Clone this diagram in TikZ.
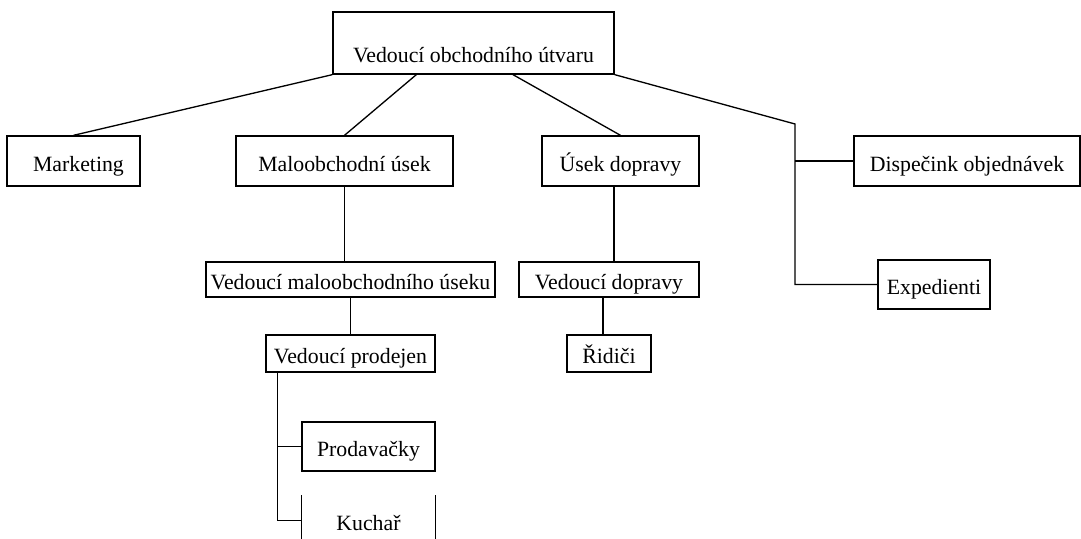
\documentclass[tikz,border=0pt]{standalone}
\usepackage{fontspec}
\setmainfont{Liberation Serif}
\begin{document}
\begin{tikzpicture}[
  every node/.style={draw=black, line width=0.75pt, font=\fontsize{12.4}{14}\selectfont, align=center, inner sep=0pt, text height=1.36em, text depth=0.18em, text=black},
  every path/.style={line width=0.75pt}
]
  \useasboundingbox (0,0) rectangle (21.62,-10.78);
  % Top level
  \node[minimum width=5.62cm, minimum height=1.24cm, text height=2.4em, text depth=0.16em] (head) at (9.47,-0.86) {Vedoucí obchodního útvaru};

  % Second row
  \node[minimum width=2.66cm, minimum height=1.0cm] (mark) at (1.47,-3.22) {\hspace{0.2cm}Marketing};
  \draw (head.south west) -- (mark.north);
  \node[minimum width=4.34cm, minimum height=1.0cm] (malo) at (6.89,-3.22) {Maloobchodní úsek};
  \draw ([xshift=1.68cm]head.south west) -- (malo.north);
  \node[minimum width=3.14cm, minimum height=1.0cm] (dopr) at (12.41,-3.22) {Úsek dopravy};
  \draw ([xshift=0.79cm]head.south) -- (dopr.north);
  \node[minimum width=4.52cm, minimum height=1.0cm] (disp) at (19.34,-3.22) {Dispečink objednávek};
  \node[minimum width=2.24cm, minimum height=0.98cm] (exped) at (18.68,-5.69) {Expedienti};
  \coordinate (bend) at (15.9,-2.48);
  \draw (head.south east) -- (bend) |- (exped.west);
  \draw (bend |- disp.west) -- (disp.west);

  % Third row
  \node[minimum width=5.78cm, minimum height=0.70cm] (vmalo) at (7.01,-5.59) {Vedoucí maloobchodního úseku};
  \draw (malo.south) -- (malo.south |- vmalo.north);
  \node[minimum width=3.6cm, minimum height=0.70cm] (vdopr) at (12.18,-5.59) {Vedoucí dopravy};
  \draw ([xshift=-0.13cm]dopr.south) -- ([xshift=-0.13cm]dopr.south |- vdopr.north);

  % Fourth row
  \node[minimum width=3.38cm, minimum height=0.74cm] (vprod) at (7.01,-7.07) {Vedoucí prodejen};
  \draw (vmalo.south) -- (vprod.north);
  \node[minimum width=1.68cm, minimum height=0.74cm] (ridic) at (12.18,-7.07) {Řidiči};
  \draw ([xshift=-0.12cm]vdopr.south) -- ([xshift=-0.12cm]vdopr.south |- ridic.north);

  % Shops
  \node[minimum width=2.66cm, minimum height=0.98cm] (prod) at (7.37,-8.93) {Prodavačky};
  \node[draw=none, minimum width=2.66cm, minimum height=0.98cm] (kuch) at (7.37,-10.41) {Kuchař};
  \draw (kuch.north west) -- (kuch.south west);
  \draw (kuch.north east) -- (kuch.south east);
  \draw ([xshift=0.24cm]vprod.south west) |- (kuch.west);
  \draw ([xshift=0.24cm]vprod.south west |- prod.west) -- (prod.west);
\end{tikzpicture}
\end{document}
